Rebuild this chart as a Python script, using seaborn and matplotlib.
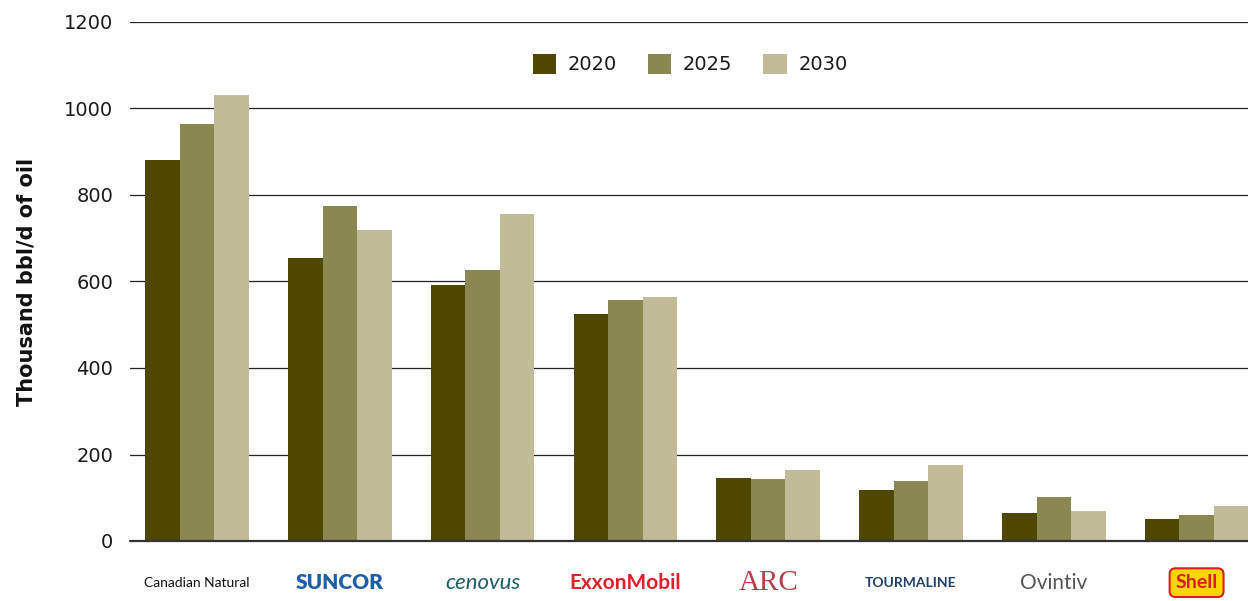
import matplotlib
matplotlib.use("Agg")
import matplotlib.pyplot as plt
import seaborn as sns
import pandas as pd

companies = ["Canadian Natural", "SUNCOR", "cenovus", "ExxonMobil", "ARC",
             "TOURMALINE", "Ovintiv", "Shell"]
years = ["2020", "2025", "2030"]
v2020 = [881, 654, 592, 525, 146, 118, 65, 51]
v2025 = [964, 775, 627, 557, 143, 139, 102, 60]
v2030 = [1031, 719, 756, 564, 164, 176, 69, 81]
yticks = [0, 200, 400, 600, 800, 1000, 1200]
colors = ["#4D4700", "#8B8750", "#C2BB98"]

rows = []
for vals, yr in zip([v2020, v2025, v2030], years):
    for c, v in zip(companies, vals):
        rows.append({"company": c, "year": yr, "value": v})
df = pd.DataFrame(rows)

sns.set_theme(style="white")
plt.rcParams["font.family"] = ["DejaVu Sans"]

fig = plt.figure(figsize=(12.48, 6.01), dpi=100)
ax = fig.add_axes([130/1248, 1 - 541/601, 1118/1248, 519/601])

sns.barplot(data=df, x="company", y="value", hue="year", order=companies,
            hue_order=years, palette=colors, width=0.725, saturation=1,
            linewidth=0, ax=ax)

ax.set_ylim(0, 1200)
ax.set_xlim(-0.47, 7.36)
ax.set_yticks(yticks)
ax.set_yticklabels([str(t) for t in yticks], fontsize=14, color="#1a1a1a")
for t in yticks:
    if t == 0:
        ax.axhline(t, color="#333333", linewidth=1.6, zorder=5, clip_on=False)
    else:
        ax.axhline(t, color="#222222", linewidth=0.9, zorder=0)
for s in ax.spines.values():
    s.set_visible(False)
ax.tick_params(axis="y", length=0, pad=12)
ax.tick_params(axis="x", length=0, pad=30)
ax.set_xlabel("")
ax.set_ylabel("Thousand bbl/d of oil", fontsize=15, fontweight="bold",
              color="#111111", labelpad=20)

styles = {
    "Canadian Natural": dict(color="#111111", fontsize=10, fontweight="normal", family=["Lato"]),
    "SUNCOR": dict(color="#1F5FA8", fontsize=15, fontweight="heavy", family=["Lato"]),
    "cenovus": dict(color="#1D5E6B", fontsize=16, style="italic", family=["Lato"]),
    "ExxonMobil": dict(color="#E0202A", fontsize=15, fontweight="bold", family=["Lato"]),
    "ARC": dict(color="#B5404A", fontsize=21, family=["Liberation Serif"]),
    "TOURMALINE": dict(color="#1F3F6E", fontsize=10, fontweight="bold", family=["Lato"]),
    "Ovintiv": dict(color="#555555", fontsize=15, family=["Lato"]),
    "Shell": dict(color="#DD1D21", fontsize=14, fontweight="bold", family=["Lato"]),
}
ax.set_xticks(range(len(companies)))
ax.set_xticklabels(companies)
for lab in ax.get_xticklabels():
    st = styles[lab.get_text()]
    lab.set_color(st["color"])
    lab.set_fontsize(st["fontsize"])
    if "fontweight" in st:
        lab.set_fontweight(st["fontweight"])
    if "style" in st:
        lab.set_fontstyle(st["style"])
    if "family" in st:
        lab.set_fontfamily(st["family"])
    lab.set_verticalalignment("center")
    if lab.get_text() == "Shell":
        lab.set_bbox(dict(boxstyle="round,pad=0.3", fc="#FFD500", ec="#DD1D21", lw=1.5))

leg = ax.legend(loc="center", bbox_to_anchor=(0.501, 0.919), ncol=3, frameon=False,
                fontsize=14, handlelength=1.2, handleheight=1.2, columnspacing=1.6,
                handletextpad=0.6)
for txt in leg.get_texts():
    txt.set_color("#1a1a1a")

fig.savefig("out.png", dpi=100)
